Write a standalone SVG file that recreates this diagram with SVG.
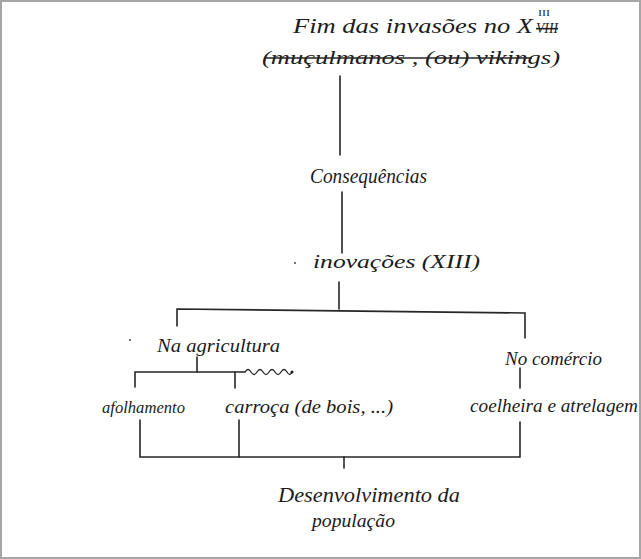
<svg xmlns="http://www.w3.org/2000/svg" width="641" height="559" viewBox="0 0 641 559">
<style>
text{font-family:"Liberation Serif","DejaVu Serif",serif;font-style:italic;fill:#1c1c1c}
.ln{stroke:#262626;stroke-width:1.6;fill:none;stroke-linecap:round}
.st{stroke:#262626;stroke-width:1.3;fill:none}
</style>
<rect x="1" y="1" width="639" height="557" fill="#ffffff" stroke="#a6a6a6" stroke-width="2"/>
<g id="connectors">
<line class="ln" x1="340" y1="76" x2="340" y2="155"/>
<line class="ln" x1="342" y1="192" x2="342" y2="253"/>
<line class="ln" x1="339" y1="282" x2="339" y2="309"/>
<polyline class="ln" points="177,326 177,309 525,313 525,338"/>
<line class="ln" x1="520" y1="368" x2="520" y2="388"/>
<line class="ln" x1="197" y1="357" x2="197" y2="372"/>
<polyline class="ln" points="135,387 135,372 245,372"/>
<line class="ln" x1="235" y1="372" x2="235" y2="388"/>
<path class="st" d="M245 372 q3 -5 6 0 t6 0 t6 0 t6 0 t6 0 t6 0 t6 0 t5 0"/>
<circle cx="292" cy="372" r="1.6" fill="#262626"/>
<polyline class="ln" points="140,420 140,457 520,457 520,422"/>
<line class="ln" x1="239" y1="420" x2="239" y2="457"/>
<line class="ln" x1="344" y1="457" x2="344" y2="468"/>
</g>
<g id="node-fim">
<text x="293" y="33" textLength="240" lengthAdjust="spacingAndGlyphs" style="font-size:20px">Fim das invasões no X</text>
<text x="536" y="33" textLength="22" lengthAdjust="spacingAndGlyphs" style="font-size:15px" text-decoration="line-through">VIII</text>
<text x="538" y="16" textLength="12" lengthAdjust="spacingAndGlyphs" style="font-size:9px;font-style:normal">III</text>
<text x="262" y="64" textLength="298" lengthAdjust="spacingAndGlyphs" style="font-size:19px">(muçulmanos , (ou) vikings)</text>
<line class="st" x1="266" y1="58" x2="532" y2="58"/>
</g>
<g id="node-consequencias">
<text x="310" y="183" textLength="117" lengthAdjust="spacingAndGlyphs" style="font-size:20px">Consequências</text>
</g>
<g id="node-inovacoes">
<circle cx="295" cy="263" r="1" fill="#444"/>
<text x="313" y="268" textLength="167" lengthAdjust="spacingAndGlyphs" style="font-size:19px">inovações  (XIII)</text>
</g>
<g id="node-agricultura">
<circle cx="130" cy="340" r="1" fill="#444"/>
<text x="157" y="352" textLength="123" lengthAdjust="spacingAndGlyphs" style="font-size:19px">Na agricultura</text>
</g>
<g id="node-comercio">
<text x="505" y="365" textLength="97" lengthAdjust="spacingAndGlyphs" style="font-size:18px">No comércio</text>
</g>
<g id="node-afolhamento">
<text x="102" y="413" textLength="83" lengthAdjust="spacingAndGlyphs" style="font-size:17px">afolhamento</text>
</g>
<g id="node-carroca">
<text x="225" y="413" textLength="168" lengthAdjust="spacingAndGlyphs" style="font-size:19px">carroça (de bois, ...)</text>
</g>
<g id="node-coelheira">
<text x="470" y="412" textLength="168" lengthAdjust="spacingAndGlyphs" style="font-size:19px">coelheira e atrelagem</text>
</g>
<g id="node-desenvolvimento">
<text x="278" y="502" textLength="182" lengthAdjust="spacingAndGlyphs" style="font-size:20px">Desenvolvimento da</text>
<text x="312" y="527" textLength="83" lengthAdjust="spacingAndGlyphs" style="font-size:18px">população</text>
</g>
</svg>
